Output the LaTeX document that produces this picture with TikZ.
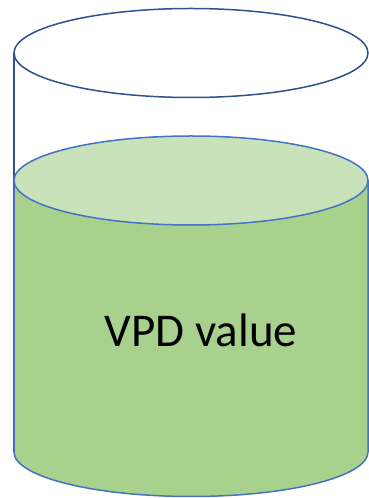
\documentclass[tikz,border=0pt]{standalone}
\usepackage{fontspec}
\setmainfont{Carlito}
\usepackage{tikz}
\usetikzlibrary{positioning}
\definecolor{rimblue}{HTML}{2F528F}
\definecolor{edgeblue}{HTML}{4472C4}
\definecolor{waterside}{HTML}{A9D18E}
\definecolor{watertop}{HTML}{C9E2BA}

\begin{document}
\begin{tikzpicture}[x=1pt,y=1pt,line width=1.5pt,
        glass line/.style={draw=rimblue},
        water line/.style={draw=edgeblue},
        label text/.style={font=\fontsize{47}{56}\selectfont,text=black,inner sep=0pt}]
    \useasboundingbox (0,0) rectangle (369,498);

    % empty glass
    \draw[glass line] (14,445) -- (14,46);
    \draw[glass line] (191,445) ellipse [x radius=177,y radius=44.5];

    % water body
    \fill[waterside] (14,317.5) -- (14,46)
        arc[start angle=180,end angle=360,x radius=177,y radius=44.5]
        -- (368,317.5) -- cycle;
    \draw[water line] (14,317.5) -- (14,46)
        arc[start angle=180,end angle=360,x radius=177,y radius=44.5]
        -- (368,317.5);
    \filldraw[water line,fill=watertop] (191,317.5) ellipse [x radius=177,y radius=44.5];

    \node[label text] (vpd) at (201,168) {VPD value};

\end{tikzpicture}
\end{document}
